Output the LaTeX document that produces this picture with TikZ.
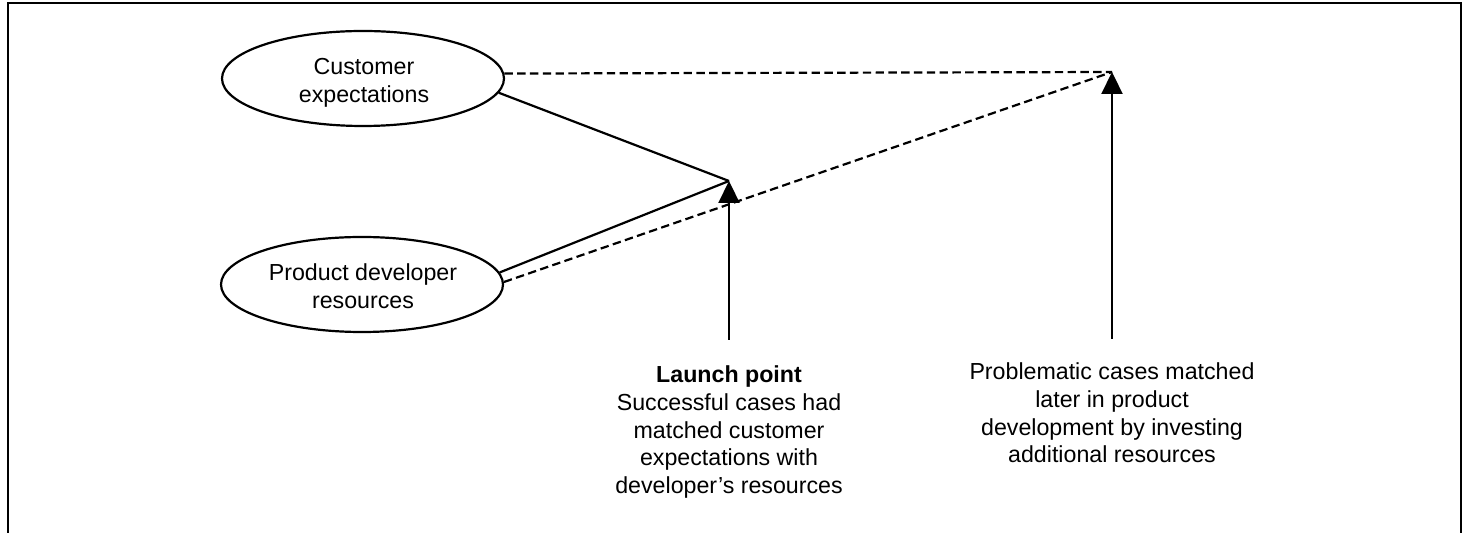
\documentclass[tikz,border=0pt]{standalone}
\usepackage{fontspec}
\setmainfont{Liberation Sans}
\usetikzlibrary{shapes.geometric,arrows.meta}
\begin{document}
\begin{tikzpicture}[x=0.5pt,y=-0.5pt,
  ell/.style={draw,line width=1.1pt,ellipse,minimum width=141pt,minimum height=47.5pt,inner sep=0pt},
  txt/.style={font=\fontsize{11.6}{13.85}\selectfont,align=center,inner sep=0pt,anchor=north},
  conn/.style={line width=1.1pt},
  dconn/.style={line width=1.1pt,dash pattern=on 4.2pt off 2.2pt},
  arr/.style={line width=1.1pt,-{Triangle[width=10.5pt,length=11pt]}}]
\useasboundingbox (0,0) rectangle (1468,533);
% frame
\draw[line width=1.3pt] (8,540) -- (8,3) -- (1461,3) -- (1461,540);
% ellipses
\node[ell] (ce) at (363,78.5) {};
\node[txt] (cet) at (364,58.4) {Customer\\expectations};
\node[ell] (pd) at (362,284.5) {};
\node[txt] (pdt) at (363,263.4) {Product developer\\resources};
% points
\coordinate (lp) at (729,181);
\coordinate (pp) at (1112,72);
\coordinate (lpb) at (729,340);
\coordinate (ppb) at (1112,339);
% connectors
\draw[conn] (ce.-6) -- (lp);
\draw[conn] (pd.5) -- (lp);
\draw[dconn] (ce.2) -- (pp);
\draw[dconn] (pd.1) -- (pp);
\draw[arr] (lpb) -- (lp);
\draw[arr] (ppb) -- (pp);
% texts
\node[txt] (lt) at (729,365.4) {\textbf{Launch point}\\Successful cases had\\matched customer\\expectations with\\developer’s resources};
\node[txt] (pt) at (1112,362.4) {Problematic cases matched\\later in product\\development by investing\\additional resources};
\end{tikzpicture}
\end{document}
